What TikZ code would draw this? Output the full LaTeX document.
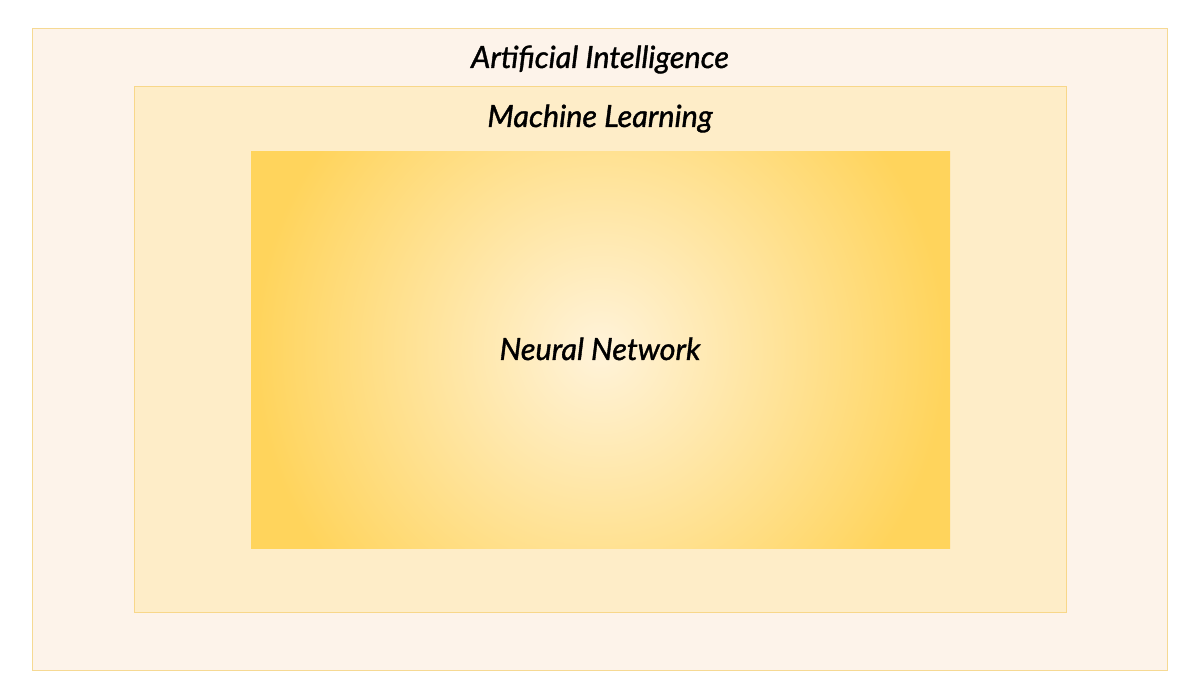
\documentclass[tikz,border=0pt]{standalone}
\usepackage{fontspec}
\setmainfont{Lato}
\newfontfamily\lblfont[FakeBold=1.2]{Lato Italic}
\definecolor{aifill}{HTML}{FDF3EA}
\definecolor{aidraw}{HTML}{F6D993}
\definecolor{mlfill}{HTML}{FEEDC8}
\definecolor{mldraw}{HTML}{F8D78A}
\definecolor{nninner}{HTML}{FFF3DA}
\definecolor{nnouter}{HTML}{FFD45C}
\pgfdeclareradialshading{nnshade}{\pgfpointorigin}{color(0bp)=(nninner); color(345bp)=(nnouter); color(420bp)=(nnouter)}
\tikzset{
  lbl/.style={font=\lblfont\fontsize{30.6}{34}\selectfont, text=black, anchor=base, inner sep=0pt},
  aibox/.style={fill=aifill, draw=aidraw, line width=1pt},
  mlbox/.style={fill=mlfill, draw=mldraw, line width=1pt},
}
\begin{document}
\begin{tikzpicture}[x=1pt,y=-1pt]
\useasboundingbox (0,0) rectangle (1200,700);
\fill[white] (0,0) rectangle (1200,700);
\draw[aibox] (32.5,28.5) rectangle (1167.5,670.5);
\draw[mlbox] (134.5,86.5) rectangle (1066.5,612.5);
\begin{scope}
  \clip (251,152) rectangle (950,548);
  \node[inner sep=0pt, outer sep=0pt] (nnbg) at (600.5,350) {\pgfuseshading{nnshade}};
\end{scope}
\node[lbl] (ai) at (600,68) {Artificial Intelligence};
\node[lbl] (ml) at (600,127) {Machine Learning};
\node[lbl] (nn) at (600,360) {Neural Network};
\end{tikzpicture}
\end{document}
